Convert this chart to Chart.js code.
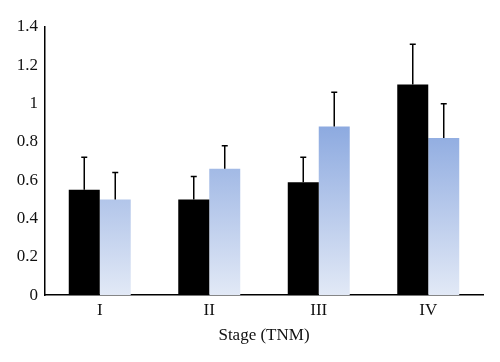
<!DOCTYPE html>
<html><head><meta charset="utf-8">
<script src="https://cdn.jsdelivr.net/npm/chart.js@4.4.0/dist/chart.umd.min.js"></script>
<style>html,body{margin:0;padding:0;background:#fff}#w{width:500px;height:362px}</style>
</head><body><div id="w"><canvas id="c" width="500" height="362"></canvas></div>
<script>
const categories = ['I', 'II', 'III', 'IV'];
const seriesBlack = [0.55, 0.50, 0.59, 1.10];
const errorBlack = [0.17, 0.12, 0.13, 0.21];
const seriesBlue = [0.50, 0.66, 0.88, 0.82];
const errorBlue = [0.14, 0.12, 0.18, 0.18];
const yTicks = [0, 0.2, 0.4, 0.6, 0.8, 1, 1.2, 1.4];
const xTitle = 'Stage (TNM)';

function blueGrad(ctx) {
  const chart = ctx.chart; const a = chart.chartArea;
  if (!a) return '#a8bfe6';
  const g = chart.ctx.createLinearGradient(0, chart.scales.y.getPixelForValue(0.88), 0, a.bottom);
  g.addColorStop(0, 'rgb(141,170,224)');
  g.addColorStop(1, 'rgb(226,233,246)');
  return g;
}

const errorPlugin = {
  id: 'errbars',
  afterDatasetsDraw(chart) {
    const c = chart.ctx; const y = chart.scales.y;
    chart.data.datasets.forEach((ds, i) => {
      const meta = chart.getDatasetMeta(i);
      meta.data.forEach((bar, j) => {
        const top = y.getPixelForValue(ds.data[j] + ds.err[j]);
        const base = y.getPixelForValue(ds.data[j]);
        c.save();
        c.strokeStyle = '#000'; c.lineWidth = 1.5;
        c.beginPath();
        c.moveTo(bar.x, base); c.lineTo(bar.x, top);
        c.moveTo(bar.x - 3, top); c.lineTo(bar.x + 3, top);
        c.stroke();
        c.restore();
      });
    });
  }
};

new Chart(document.getElementById('c'), {
  type: 'bar',
  data: {
    labels: categories,
    datasets: [
      { data: seriesBlack, err: errorBlack, backgroundColor: '#000', borderWidth: 0 },
      { data: seriesBlue, err: errorBlue, backgroundColor: blueGrad, borderWidth: 0 }
    ]
  },
  options: {
    responsive: false, animation: false,
    layout: { padding: { top: 27, right: 17, left: 0, bottom: 12 } },
    plugins: { legend: { display: false }, tooltip: { enabled: false } },
    datasets: { bar: { categoryPercentage: 0.566, barPercentage: 1 } },
    scales: {
      x: {
        grid: { display: false, drawTicks: false },
        border: { color: '#000', width: 1.5 },
        ticks: { color: '#111', font: { family: 'Liberation Serif', size: 17 }, padding: 5 },
        title: { display: true, text: xTitle, color: '#111', font: { family: 'Liberation Serif', size: 17 }, padding: { top: 0 } }
      },
      y: {
        min: 0, max: 1.4,
        afterBuildTicks(s) { s.ticks = yTicks.map(v => ({ value: v })); },
        afterFit(s) { s.width = 45; },
        grid: { display: false, drawTicks: false },
        border: { color: '#000', width: 1.5 },
        ticks: { color: '#111', font: { family: 'Liberation Serif', size: 17 }, padding: 7,
          callback: v => String(Math.round(v * 10) / 10) }
      }
    }
  },
  plugins: [errorPlugin]
});
</script></body></html>
